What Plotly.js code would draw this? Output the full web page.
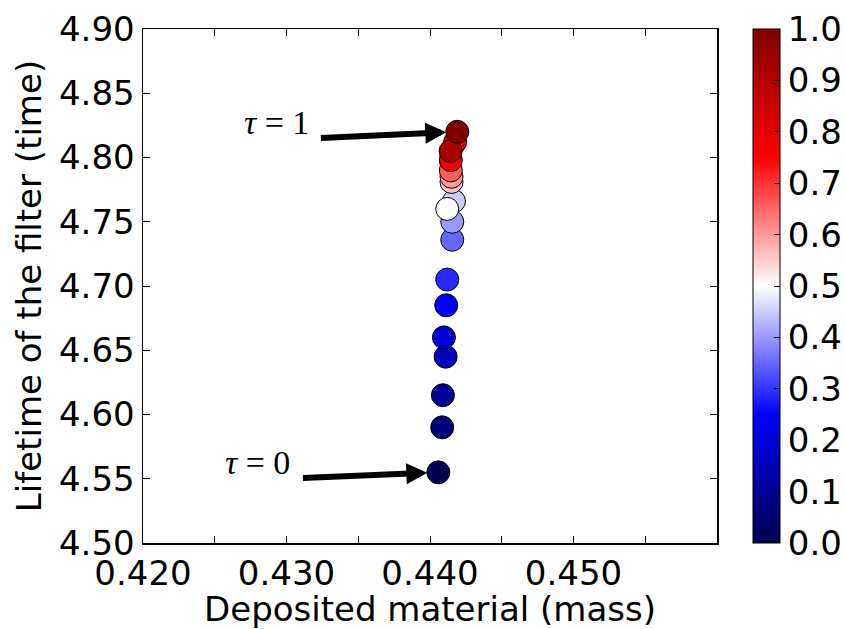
<!DOCTYPE html>
<html>
<head>
<meta charset="utf-8">
<script src="https://cdn.plot.ly/plotly-3.0.1.min.js"></script>
<style>
  html, body { margin: 0; padding: 0; background: #ffffff; }
  #chart { width: 845px; height: 629px; }
</style>
</head>
<body>
<div id="chart"></div>
<script>
// Filter trajectory: deposited material vs. lifetime, coloured by tau
const depositedMass = [0.44058, 0.44085, 0.44090, 0.44109, 0.44097, 0.44113, 0.44120,
                       0.44155, 0.44155, 0.44167, 0.44120, 0.44150, 0.44150, 0.44145,
                       0.44145, 0.44175, 0.44144, 0.44190];
const filterLifetime = [4.555, 4.590, 4.615, 4.645, 4.660, 4.685, 4.705,
                        4.736, 4.750, 4.766, 4.760, 4.781, 4.785, 4.790,
                        4.798, 4.812, 4.805, 4.820];
const tauValues = [0.00, 0.06, 0.10, 0.16, 0.19, 0.24, 0.29,
                   0.35, 0.40, 0.45, 0.50, 0.56, 0.60, 0.66,
                   0.76, 0.80, 0.92, 1.00];

// Axis ticks
const xTickVals = [0.420, 0.425, 0.430, 0.435, 0.440, 0.445, 0.450, 0.455, 0.460];
const xTickText = ['0.420', '', '0.430', '', '0.440', '', '0.450', '', ''];
const yTickVals = [4.50, 4.55, 4.60, 4.65, 4.70, 4.75, 4.80, 4.85, 4.90];
const cbTickVals = [0.0, 0.1, 0.2, 0.3, 0.4, 0.5, 0.6, 0.7, 0.8, 0.9, 1.0];

// matplotlib "seismic" colormap
const seismic = [
  [0.00, 'rgb(0,0,77)'],
  [0.25, 'rgb(0,0,255)'],
  [0.50, 'rgb(255,255,255)'],
  [0.75, 'rgb(255,0,0)'],
  [1.00, 'rgb(128,0,0)']
];

const FONT = 'DejaVu Sans, Bitstream Vera Sans, sans-serif';
const first = 0, last = tauValues.length - 1;

const trace = {
  type: 'scatter',
  mode: 'markers',
  x: depositedMass,
  y: filterLifetime,
  marker: {
    size: 23,
    color: tauValues,
    colorscale: seismic,
    cmin: 0,
    cmax: 1,
    line: { color: '#000000', width: 1 },
    colorbar: {
      x: 1.0627,
      xanchor: 'left',
      xpad: 0,
      y: 0.5,
      yanchor: 'middle',
      ypad: 0,
      len: 1,
      lenmode: 'fraction',
      thickness: 27,
      thicknessmode: 'pixels',
      outlinewidth: 1,
      outlinecolor: '#000000',
      tickmode: 'array',
      tickvals: cbTickVals,
      tickformat: '.1f',
      ticks: 'inside',
      ticklen: 6,
      tickwidth: 1,
      tickcolor: '#000000',
      tickfont: { family: FONT, size: 34, color: '#000000' }
    }
  },
  hoverinfo: 'skip',
  showlegend: false
};

const axisCommon = {
  showgrid: false,
  zeroline: false,
  showline: true,
  linecolor: '#000000',
  linewidth: 1.5,
  mirror: 'allticks',
  ticks: 'inside',
  ticklen: 7,
  tickwidth: 1,
  tickcolor: '#000000',
  tickfont: { family: FONT, size: 34, color: '#000000' },
  automargin: false
};

const arrowStyle = {
  xref: 'x', yref: 'y', axref: 'x', ayref: 'y',
  text: '',
  showarrow: true,
  arrowhead: 2,
  arrowsize: 0.7,
  arrowwidth: 6,
  arrowcolor: '#000000',
  standoff: 11
};

const labelStyle = {
  xref: 'x', yref: 'y',
  showarrow: false,
  font: { family: 'Liberation Serif, DejaVu Serif, serif', size: 34, color: '#000000' }
};

const layout = {
  width: 845,
  height: 629,
  margin: { l: 143, r: 128, t: 29, b: 86, pad: 0, autoexpand: false },
  paper_bgcolor: '#ffffff',
  plot_bgcolor: '#ffffff',
  xaxis: Object.assign({}, axisCommon, {
    range: [0.420, 0.460],
    tickmode: 'array',
    tickvals: xTickVals,
    ticktext: xTickText,
    title: { text: 'Deposited material (mass)', standoff: 7,
             font: { family: FONT, size: 34, color: '#000000' } }
  }),
  yaxis: Object.assign({}, axisCommon, {
    range: [4.50, 4.90],
    tickmode: 'array',
    tickvals: yTickVals,
    tickformat: '.2f',
    title: { text: 'Lifetime of the filter (time)', standoff: 7,
             font: { family: FONT, size: 34, color: '#000000' } }
  }),
  annotations: [
    Object.assign({}, arrowStyle, {
      x: depositedMass[last], y: filterLifetime[last], ax: 0.43229, ay: 4.8152
    }),
    Object.assign({}, arrowStyle, {
      x: depositedMass[first], y: filterLifetime[first], ax: 0.43104, ay: 4.5506
    }),
    Object.assign({}, labelStyle, { x: 0.42930, y: 4.8276, text: '<i>τ</i> = 1' }),
    Object.assign({}, labelStyle, { x: 0.42800, y: 4.5630, text: '<i>τ</i> = 0' })
  ]
};

Plotly.newPlot('chart', [trace], layout, { staticPlot: true, displayModeBar: false });
</script>
</body>
</html>
